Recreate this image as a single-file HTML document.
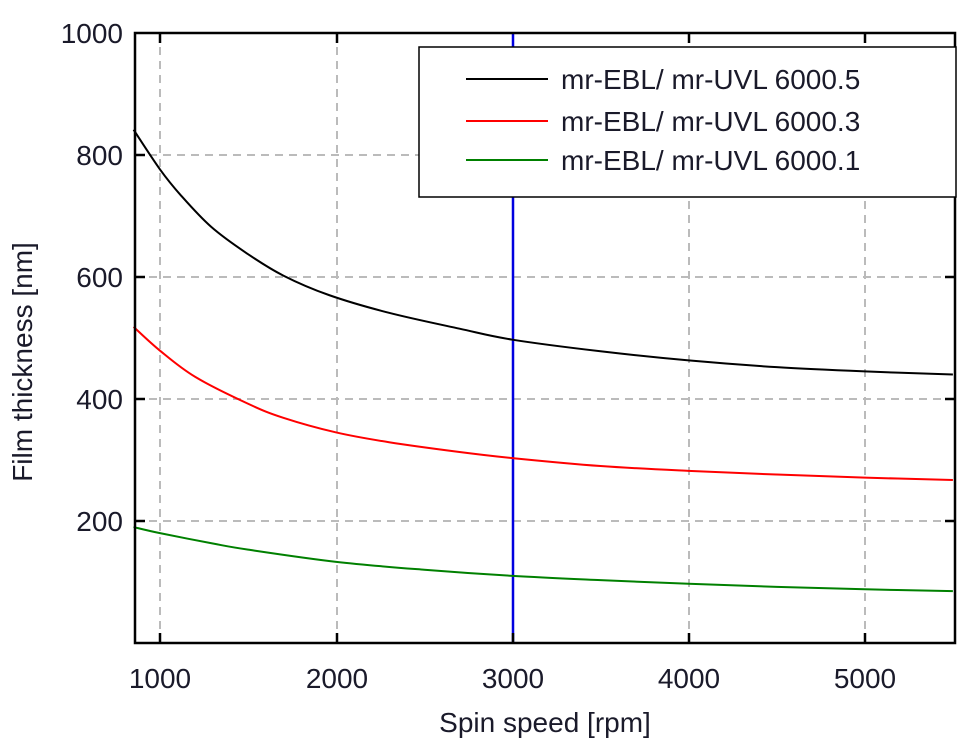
<!DOCTYPE html><html><head><style>body{margin:0;background:#fff}svg{display:block}text{font-family:"Liberation Sans","DejaVu Sans",sans-serif;fill:#1a1a2a}</style></head><body>
<svg id="s" width="977" height="754" xmlns="http://www.w3.org/2000/svg">
<g stroke="#bbb" stroke-width="2" stroke-dasharray="8,6">
<line x1="160" y1="33" x2="160" y2="643"/><line x1="337" y1="33" x2="337" y2="643"/><line x1="689" y1="33" x2="689" y2="643"/><line x1="865" y1="33" x2="865" y2="643"/>
<line x1="135" y1="155" x2="955" y2="155"/><line x1="135" y1="277" x2="955" y2="277"/><line x1="135" y1="399" x2="955" y2="399"/><line x1="135" y1="521" x2="955" y2="521"/>
</g>
<line x1="513" y1="33" x2="513" y2="643" stroke="#0000e0" stroke-width="2.5"/>
<g id="c" fill="none" stroke-width="2"></g>
<g stroke="#000" stroke-width="2.5">
<rect x="135" y="33" width="820" height="610" fill="none"/>
<line x1="160" y1="643" x2="160" y2="633"/><line x1="337" y1="643" x2="337" y2="633"/><line x1="513" y1="643" x2="513" y2="633"/><line x1="689" y1="643" x2="689" y2="633"/><line x1="865" y1="643" x2="865" y2="633"/>
<line x1="160" y1="33" x2="160" y2="43"/><line x1="337" y1="33" x2="337" y2="43"/><line x1="689" y1="33" x2="689" y2="43"/><line x1="865" y1="33" x2="865" y2="43"/>
<line x1="135" y1="155" x2="145" y2="155"/><line x1="135" y1="277" x2="145" y2="277"/><line x1="135" y1="399" x2="145" y2="399"/><line x1="135" y1="521" x2="145" y2="521"/>
<line x1="955" y1="155" x2="945" y2="155"/><line x1="955" y1="277" x2="945" y2="277"/><line x1="955" y1="399" x2="945" y2="399"/><line x1="955" y1="521" x2="945" y2="521"/>
</g>
<rect x="419" y="47" width="537" height="150" fill="#fff" stroke="#000" stroke-width="1.5"/>
<line x1="466" y1="79" x2="548" y2="79" stroke="#000" stroke-width="2"/>
<line x1="466" y1="121" x2="548" y2="121" stroke="#f00" stroke-width="2"/>
<line x1="466" y1="160" x2="548" y2="160" stroke="#008000" stroke-width="2"/>
<g font-size="28"><text x="561" y="89">mr-EBL/ mr-UVL 6000.5</text><text x="561" y="131">mr-EBL/ mr-UVL 6000.3</text><text x="561" y="170">mr-EBL/ mr-UVL 6000.1</text></g>
<g font-size="28" text-anchor="end"><text x="123" y="43">1000</text><text x="123" y="165">800</text><text x="123" y="287">600</text><text x="123" y="409">400</text><text x="123" y="531">200</text></g>
<g font-size="28" text-anchor="middle"><text x="160" y="688">1000</text><text x="337" y="688">2000</text><text x="513" y="688">3000</text><text x="689" y="688">4000</text><text x="865" y="688">5000</text>
<text x="545" y="732">Spin speed [rpm]</text>
<text transform="translate(32,362) rotate(-90)">Film thickness [nm]</text></g>
</svg>
<script>
var D=[["#000",[[850,841],[1000,776],[1120,733],[1290,682],[1490,639],[1700,602],[1960,570],[2300,541],[2700,515],[3000,497],[3500,478],[4000,463],[4500,452],[5000,445],[5500,440]]],
["#f00",[[850,518],[1000,479],[1200,436],[1500,392],[1700,369],[2000,345],[2300,329],[2700,313],[3000,303],[3500,290],[4000,282],[4500,276],[5000,271],[5500,267]]],
["#008000",[[850,190],[1000,180],[1300,163],[1500,153],[2000,133],[2500,120],[3000,110],[3500,103],[4000,97],[4500,92],[5000,88],[5500,85]]]];
var g=document.getElementById("c"),h="";
D.forEach(function(d){var P=d[1].map(function(q){return [160+(q[0]-1000)*0.1762,643-0.6103*q[1]]});
var s="M"+P[0][0]+","+P[0][1];
for(var i=0;i<P.length-1;i++){var p0=P[Math.max(i-1,0)],p1=P[i],p2=P[i+1],p3=P[Math.min(i+2,P.length-1)];
s+=" C"+(p1[0]+(p2[0]-p0[0])/6)+","+(p1[1]+(p2[1]-p0[1])/6)+" "+(p2[0]-(p3[0]-p1[0])/6)+","+(p2[1]-(p3[1]-p1[1])/6)+" "+p2[0]+","+p2[1];}
h+='<path stroke="'+d[0]+'" d="'+s+'"/>';});
g.innerHTML=h;
</script>
</body></html>
